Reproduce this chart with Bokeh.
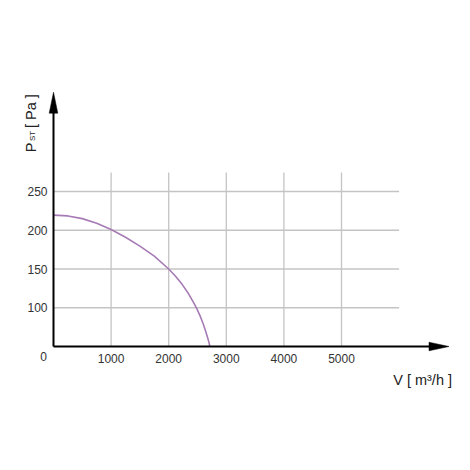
import numpy as np
from bokeh.plotting import figure
from bokeh.models import Label, Range1d, FixedTicker
from bokeh.embed import file_html
from bokeh.resources import INLINE

# Data: fan curve, V [m3/h] vs static pressure P [Pa]
flow = [0, 250, 500, 750, 1000, 1250, 1500, 1750, 2000, 2115, 2230, 2345, 2430,
        2490, 2545, 2595, 2640, 2675, 2700, 2714]
pressure = [219.5, 218.5, 215, 209, 201, 191, 179.5, 166.5, 150, 141, 130.5, 118, 107,
            97, 79, 60, 40, 23, 10, 0]

x_ticks = [1000, 2000, 3000, 4000, 5000]
y_ticks = [100, 150, 200, 250]
x_grid_end = 6000
y_grid_end = 274.5

# broken y axis: the 0..100 band is drawn at half scale
def ymap(p):
    p = np.asarray(p, dtype=float)
    return np.where(p >= 100, p, 50 + p / 2.0)

PX_X = 0.0576   # px per m3/h
PX_Y = 0.775    # px per display unit
OX, OY = 53, 346  # page position of the origin
W = H = 462

def dx(px):
    return (px - OX) / PX_X

def dy(py):
    return 50 + (OY - py) / PX_Y

p = figure(width=W, height=H, output_backend="svg", toolbar_location=None,
           x_range=Range1d(dx(0), dx(W)), y_range=Range1d(dy(H), dy(0)),
           min_border=0, min_border_left=0, min_border_right=0,
           min_border_top=0, min_border_bottom=0)
p.outline_line_color = None
p.xgrid.visible = False
p.ygrid.visible = False
p.background_fill_color = "white"
p.border_fill_color = "white"

font = "Liberation Sans"
xa, ya = p.xaxis[0], p.yaxis[0]
xa.fixed_location = 50
ya.fixed_location = 0
for ax in (xa, ya):
    ax.axis_line_color = None
    ax.major_tick_line_color = None
    ax.minor_tick_line_color = None
    ax.major_label_text_font = font
    ax.major_label_text_font_size = "12px"
    ax.major_label_text_color = "#333333"
    ax.major_tick_out = 0
    ax.major_tick_in = 0
xa.ticker = FixedTicker(ticks=x_ticks)
ya.ticker = FixedTicker(ticks=y_ticks)
xa.major_label_standoff = 7
ya.major_label_standoff = 6

grid_col = "#c4c4c4"
# horizontal grid
p.segment(x0=[0] * len(y_ticks), y0=y_ticks, x1=[x_grid_end] * len(y_ticks), y1=y_ticks,
          line_color=grid_col, line_width=1.3)
# vertical grid
p.segment(x0=x_ticks, y0=[50] * len(x_ticks), x1=x_ticks, y1=[y_grid_end] * len(x_ticks),
          line_color=grid_col, line_width=1.3)

# curve
p.line(flow, ymap(pressure), line_color="#a77bb5", line_width=1.6, line_join="round")

# axes with arrowheads
x_tip = dx(448.5)
y_tip = dy(91.7)
head_len_x = 20 / PX_X
head_half_x = 4.3 / PX_Y
head_len_y = 21 / PX_Y
head_half_y = 4.3 / PX_X
p.line([0, x_tip - head_len_x * 0.5], [50, 50], line_color="black", line_width=2)
p.line([0, 0], [50, y_tip - head_len_y * 0.5], line_color="black", line_width=2)
p.patches(xs=[[x_tip, x_tip - head_len_x, x_tip - head_len_x],
              [0, -head_half_y, head_half_y]],
          ys=[[50, 50 + head_half_x, 50 - head_half_x],
              [y_tip, y_tip - head_len_y, y_tip - head_len_y]],
          fill_color="black", line_color="black", line_width=0.5)

# origin label
p.add_layout(Label(x=dx(43), y=dy(356), text="0", text_align="center",
                   text_baseline="middle", text_font=font, text_font_size="12px",
                   text_color="#333333"))

# x axis title
p.add_layout(Label(x=dx(392.7), y=dy(379.5), text="V [ m³/h ]",
                   text_align="left", text_baseline="alphabetic", text_font=font,
                   text_font_size="14.5px", text_color="#222222"))

# y axis title (rotated)
ang = np.pi / 2
p.add_layout(Label(x=dx(30), y=dy(151.7), text="P", angle=ang,
                   text_align="left", text_baseline="alphabetic", text_font=font,
                   text_font_size="14.5px", text_color="#222222"))
p.add_layout(Label(x=dx(31.5), y=dy(140.5), text="ST", angle=ang,
                   text_align="left", text_baseline="alphabetic", text_font=font,
                   text_font_size="8px", text_color="#222222"))
p.add_layout(Label(x=dx(30), y=dy(127.5), text="[ Pa ]", angle=ang,
                   text_align="left", text_baseline="alphabetic", text_font=font,
                   text_font_size="14.5px", text_color="#222222"))

open("out.html", "w").write(file_html(p, INLINE))
